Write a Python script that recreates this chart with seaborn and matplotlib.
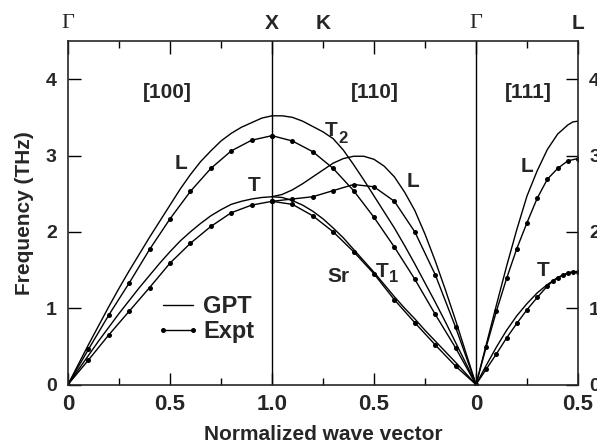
import numpy as np
import pandas as pd
import matplotlib
matplotlib.use("Agg")
import matplotlib.pyplot as plt
from matplotlib.lines import Line2D
import seaborn as sns

# ---------------- data ----------------
# [100] direction, Gamma -> X
q100_gpt = [0.0, 0.05, 0.1, 0.15, 0.2, 0.25, 0.3, 0.35, 0.4, 0.45, 0.5,
            0.55, 0.6, 0.65, 0.7, 0.75, 0.8, 0.85, 0.9, 0.95, 1.0]
gpt100_L = [0, 0.26, 0.52, 0.77, 1.02, 1.26, 1.49, 1.71, 1.93, 2.14, 2.35,
            2.56, 2.75, 2.92, 3.06, 3.19, 3.29, 3.37, 3.43, 3.49, 3.52]
gpt100_T = [0, 0.19, 0.38, 0.57, 0.75, 0.93, 1.10, 1.27, 1.43, 1.59, 1.74,
            1.88, 2.00, 2.11, 2.21, 2.29, 2.36, 2.40, 2.43, 2.45, 2.46]
q100_exp = [0.0, 0.1, 0.2, 0.3, 0.4, 0.5, 0.6, 0.7, 0.8, 0.9, 1.0]
exp100_L = [0, 0.46, 0.91, 1.33, 1.77, 2.17, 2.53, 2.83, 3.06, 3.20, 3.26]
exp100_T = [0, 0.32, 0.65, 0.96, 1.27, 1.59, 1.85, 2.07, 2.25, 2.35, 2.40]

# [110] direction, X/K -> Gamma
q110_gpt = [1.0, 0.95, 0.9, 0.85, 0.8, 0.75, 0.7, 0.65, 0.6, 0.55, 0.5,
            0.45, 0.4, 0.35, 0.3, 0.25, 0.2, 0.15, 0.1, 0.05, 0.0]
gpt110_T2 = [3.52, 3.52, 3.50, 3.45, 3.38, 3.31, 3.22, 3.07, 2.88, 2.68, 2.47,
             2.26, 2.05, 1.82, 1.58, 1.33, 1.08, 0.82, 0.55, 0.28, 0]
gpt110_L = [2.46, 2.49, 2.55, 2.63, 2.72, 2.81, 2.90, 2.96, 2.99, 2.99, 2.95,
            2.86, 2.72, 2.52, 2.28, 1.97, 1.62, 1.24, 0.84, 0.42, 0]
gpt110_T1 = [2.46, 2.45, 2.41, 2.35, 2.27, 2.17, 2.05, 1.92, 1.77, 1.62, 1.47,
             1.31, 1.15, 1.00, 0.86, 0.71, 0.57, 0.43, 0.29, 0.145, 0]
q110_exp = [1.0, 0.9, 0.8, 0.7, 0.6, 0.5, 0.4, 0.3, 0.2, 0.1, 0.0]
exp110_T2 = [3.26, 3.19, 3.05, 2.83, 2.54, 2.19, 1.80, 1.38, 0.92, 0.48, 0]
exp110_L = [2.40, 2.43, 2.46, 2.54, 2.62, 2.59, 2.40, 2.00, 1.44, 0.75, 0]
exp110_T1 = [2.40, 2.36, 2.21, 2.00, 1.74, 1.45, 1.11, 0.81, 0.52, 0.24, 0]

# [111] direction, Gamma -> L
q111_gpt = [0.0, 0.05, 0.10, 0.15, 0.20, 0.25, 0.30, 0.35, 0.40, 0.45, 0.475, 0.50]
gpt111_L = [0, 0.52, 1.04, 1.55, 2.03, 2.47, 2.80, 3.08, 3.28, 3.40, 3.44, 3.45]
gpt111_T = [0, 0.25, 0.49, 0.71, 0.90, 1.06, 1.20, 1.31, 1.40, 1.46, 1.475, 1.48]
q111_expL = [0.0, 0.05, 0.10, 0.15, 0.20, 0.25, 0.30, 0.35, 0.40, 0.45, 0.50]
exp111_L = [0, 0.49, 0.96, 1.39, 1.78, 2.12, 2.44, 2.69, 2.83, 2.93, 2.96]
q111_expT = [0.0, 0.05, 0.10, 0.15, 0.20, 0.25, 0.30, 0.35, 0.375, 0.40,
             0.425, 0.45, 0.475, 0.50]
exp111_T = [0, 0.20, 0.40, 0.61, 0.80, 0.98, 1.14, 1.29, 1.35, 1.40,
            1.43, 1.46, 1.475, 1.48]

xtick_labels = ["0", "0.5", "1.0", "0.5", "0", "0.5"]
ytick_labels = ["0", "1", "2", "3", "4"]
top_labels = ["\u0393", "X", "K", "\u0393", "L"]

# ---------------- build long table ----------------
def to_x(panel, q):
    q = np.asarray(q, dtype=float)
    if panel == 0:
        return q
    if panel == 1:
        return 2.0 - q
    return 2.0 + q

rows = []
def add(name, src, panel, q, f):
    for xv, fv in zip(to_x(panel, q), f):
        rows.append(dict(curve=name, source=src, x=xv, freq=fv))

add("100L", "GPT", 0, q100_gpt, gpt100_L)
add("100T", "GPT", 0, q100_gpt, gpt100_T)
add("100L", "Expt", 0, q100_exp, exp100_L)
add("100T", "Expt", 0, q100_exp, exp100_T)
add("110T2", "GPT", 1, q110_gpt, gpt110_T2)
add("110L", "GPT", 1, q110_gpt, gpt110_L)
add("110T1", "GPT", 1, q110_gpt, gpt110_T1)
add("110T2", "Expt", 1, q110_exp, exp110_T2)
add("110L", "Expt", 1, q110_exp, exp110_L)
add("110T1", "Expt", 1, q110_exp, exp110_T1)
add("111L", "GPT", 2, q111_gpt, gpt111_L)
add("111T", "GPT", 2, q111_gpt, gpt111_T)
add("111L", "Expt", 2, q111_expL, exp111_L)
add("111T", "Expt", 2, q111_expT, exp111_T)
df = pd.DataFrame(rows)

# ---------------- style ----------------
sns.set_theme(style="ticks")
plt.rcParams["font.family"] = ["Liberation Sans", "DejaVu Sans"]
plt.rcParams["font.weight"] = "bold"
plt.rcParams["axes.linewidth"] = 1.2

fig = plt.figure(figsize=(5.97, 4.45), dpi=100)
ax = fig.add_axes([68 / 597, 1 - 384.5 / 445, 510 / 597, 343.5 / 445])

gpt = df[df.source == "GPT"]
exp = df[df.source == "Expt"]
sns.lineplot(data=gpt, x="x", y="freq", units="curve", estimator=None,
             sort=False, color="black", lw=1.0, ax=ax, legend=False)
sns.lineplot(data=exp, x="x", y="freq", units="curve", estimator=None,
             sort=False, color="black", lw=1.0, marker="o", markersize=3.6,
             markeredgewidth=0, ax=ax, legend=False)

ax.axvline(1.0, color="black", lw=1.0)
ax.axvline(2.0, color="black", lw=1.0)

ax.set_xlim(0, 2.5)
ax.set_ylim(0, 4.5)
ax.set_xticks([0, 0.5, 1.0, 1.5, 2.0, 2.5])
ax.set_xticklabels(xtick_labels)
ax.set_xticks([0.25, 0.75, 1.25, 1.75, 2.25], minor=True)
ax.set_yticks([0, 1, 2, 3, 4])
ax.set_yticklabels(ytick_labels)
ax.tick_params(which="both", direction="in", top=True, right=True,
               color="black", width=1.0)
ax.tick_params(which="major", length=9)
ax.tick_params(which="minor", length=5)
ax.tick_params(axis="x", labelsize=16, pad=7)
ax.tick_params(axis="y", labelsize=14, labelright=True, pad=8)
for lab in ax.get_xticklabels() + ax.get_yticklabels():
    lab.set_fontweight("bold")

ax.set_xlabel("Normalized wave vector", fontsize=15, fontweight="bold", labelpad=7)
ax.set_ylabel("Frequency (THz)", fontsize=15, fontweight="bold", labelpad=9)

# top symmetry-point labels
tr = ax.get_xaxis_transform()
for xv, lab in zip([0.0, 1.0, 1.25, 2.0, 2.5], top_labels):
    if lab == "\u0393":
        ax.text(xv, 1.05, lab, transform=tr, ha="center", va="center",
                fontsize=16, family="Liberation Serif", fontweight="normal")
    else:
        ax.text(xv, 1.05, lab, transform=tr, ha="center", va="center",
                fontsize=15, fontweight="bold")

# direction labels and branch labels
txt = dict(ha="center", va="center", fontsize=15, fontweight="bold")
sub = dict(ha="center", va="center", fontsize=12, fontweight="bold")
ax.text(0.488, 3.82, "[100]", **txt)
ax.text(1.505, 3.82, "[110]", **txt)
ax.text(2.255, 3.82, "[111]", **txt)
ax.text(0.554, 2.90, "L", **txt)
ax.text(0.912, 2.61, "T", **txt)
ax.text(1.289, 3.33, "T", **txt)
ax.text(1.350, 3.22, "2", **sub)
ax.text(1.691, 2.66, "L", **txt)
ax.text(2.25, 2.86, "L", **txt)
ax.text(2.328, 1.50, "T", **txt)
ax.text(1.324, 1.42, "Sr", **txt)
ax.text(1.539, 1.48, "T", **txt)
ax.text(1.595, 1.40, "1", **sub)

handles = [Line2D([], [], color="black", lw=1.0),
           Line2D([], [], color="black", lw=1.0, marker="o", markersize=3.6,
                  markeredgewidth=0)]
leg = ax.legend(handles, ["GPT", "Expt"], loc="center left",
                bbox_to_anchor=(0.1725, 0.19), frameon=False, numpoints=2,
                borderpad=0, borderaxespad=0,
                handlelength=1.87, handletextpad=0.12, labelspacing=0.1,
                prop=dict(size=17, weight="bold"))

fig.savefig("out.png", dpi=100)
